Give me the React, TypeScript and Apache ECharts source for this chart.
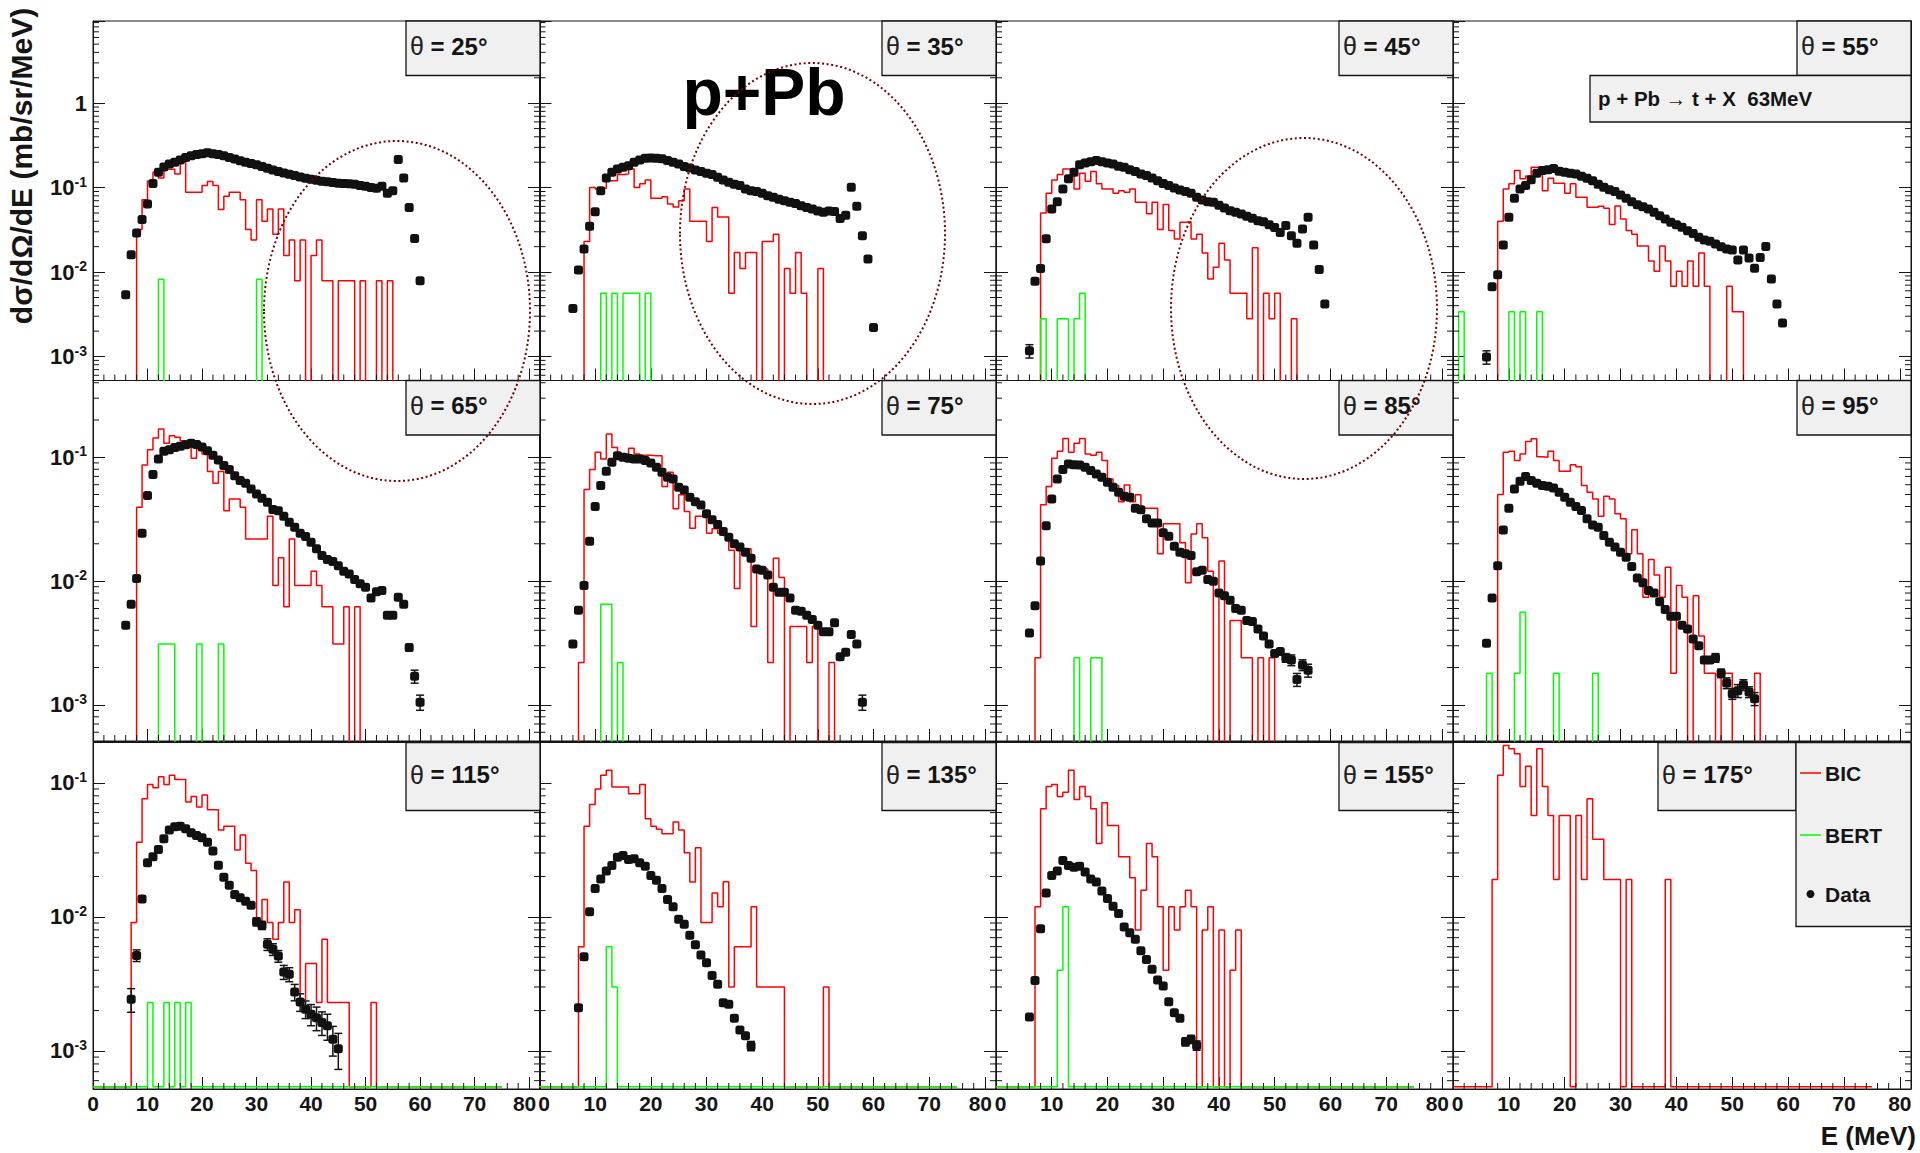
import React, { useEffect, useRef } from "react";
import * as echarts from "echarts";

// ---------------- data ----------------
const ANGLES = [25, 35, 45, 55, 65, 75, 85, 95, 115, 135, 155, 175];
const X_TICK_LABELS = [0, 10, 20, 30, 40, 50, 60, 70, 80];
const ROW_Y_MIN = [0.00052, 0.00051, 0.00052];
const ROW_Y_MAX = [9.4, 0.417, 0.2];
const LEGEND_LABELS = ["BIC", "BERT", "Data"];
const REACTION = "p + Pb → t + X  63MeV";
const BIG_LABEL = "p+Pb";
const Y_TITLE = "dσ/dΩ/dE (mb/sr/MeV)";
const X_TITLE = "E (MeV)";

// measured data, 1 MeV steps starting at DATA_START
const DATA_START = [6, 6, 6, 6, 6, 6, 6, 6, 7, 7, 6, 6];
const data25 = [0.0054, 0.016, 0.029, 0.042, 0.064, 0.112, 0.152, 0.175, 0.19, 0.2, 0.213, 0.228, 0.238, 0.247, 0.252, 0.258, 0.252, 0.246, 0.238, 0.228, 0.218, 0.208, 0.2, 0.193, 0.186, 0.178, 0.17, 0.162, 0.155, 0.149, 0.144, 0.139, 0.134, 0.129, 0.126, 0.122, 0.119, 0.117, 0.115, 0.113, 0.112, 0.111, 0.11, 0.106, 0.104, 0.1, 0.098, 0.104, 0.086, 0.092, 0.215, 0.13, 0.058, 0.025, 0.0079];
const data35 = [0.0037, 0.0106, 0.0188, 0.0348, 0.0519, 0.092, 0.13, 0.152, 0.166, 0.174, 0.182, 0.2, 0.213, 0.223, 0.225, 0.223, 0.219, 0.209, 0.2, 0.19, 0.178, 0.171, 0.162, 0.155, 0.148, 0.143, 0.133, 0.123, 0.116, 0.11, 0.106, 0.096, 0.092, 0.09, 0.086, 0.08, 0.077, 0.073, 0.07, 0.067, 0.065, 0.061, 0.058, 0.056, 0.053, 0.051, 0.053, 0.052, 0.043, 0.047, 0.101, 0.06, 0.027, 0.0143, 0.0022];
const data45 = [0.00117, 0.0078, 0.011, 0.0248, 0.0558, 0.068, 0.096, 0.127, 0.152, 0.186, 0.196, 0.203, 0.209, 0.203, 0.196, 0.19, 0.179, 0.174, 0.163, 0.155, 0.145, 0.139, 0.13, 0.121, 0.112, 0.106, 0.099, 0.094, 0.0897, 0.0857, 0.077, 0.0714, 0.068, 0.067, 0.062, 0.0574, 0.0533, 0.051, 0.0487, 0.0457, 0.0433, 0.0406, 0.0395, 0.0364, 0.0338, 0.0295, 0.0355, 0.027, 0.0219, 0.0324, 0.0445, 0.0209, 0.0107, 0.0042];
const data55 = [0.00099, 0.0067, 0.0093, 0.0209, 0.0445, 0.0748, 0.0964, 0.106, 0.124, 0.148, 0.159, 0.163, 0.169, 0.156, 0.152, 0.148, 0.145, 0.136, 0.129, 0.121, 0.11, 0.101, 0.0946, 0.0897, 0.0818, 0.0748, 0.068, 0.0629, 0.0595, 0.0558, 0.051, 0.0466, 0.0425, 0.0388, 0.0364, 0.0339, 0.0309, 0.0287, 0.0258, 0.0239, 0.0231, 0.0215, 0.02, 0.0187, 0.0182, 0.0139, 0.0182, 0.0147, 0.0111, 0.0149, 0.0201, 0.0083, 0.0042, 0.0025];
const data65 = [0.0044, 0.0065, 0.0105, 0.0243, 0.049, 0.0724, 0.097, 0.112, 0.115, 0.12, 0.123, 0.126, 0.13, 0.127, 0.121, 0.113, 0.104, 0.095, 0.0857, 0.0795, 0.071, 0.0648, 0.0617, 0.0555, 0.0506, 0.0467, 0.0433, 0.0378, 0.037, 0.0334, 0.0299, 0.0272, 0.0243, 0.0229, 0.0206, 0.0182, 0.0161, 0.0149, 0.0144, 0.0133, 0.012, 0.0114, 0.0103, 0.0095, 0.0089, 0.0073, 0.0082, 0.0084, 0.0053, 0.0053, 0.0074, 0.0065, 0.0029, 0.0017, 0.00105];
const data75 = [0.0031, 0.0058, 0.0092, 0.021, 0.04, 0.059, 0.077, 0.091, 0.103, 0.1, 0.098, 0.097, 0.097, 0.094, 0.09, 0.083, 0.0756, 0.069, 0.0668, 0.0573, 0.0545, 0.0475, 0.0438, 0.0412, 0.0349, 0.0312, 0.0286, 0.0251, 0.0226, 0.02, 0.0188, 0.0171, 0.0153, 0.0125, 0.0122, 0.0112, 0.0089, 0.0081, 0.0081, 0.0073, 0.0058, 0.0057, 0.0053, 0.0049, 0.0044, 0.0039, 0.0039, 0.0046, 0.00245, 0.00266, 0.0037, 0.0031, 0.00105];
const data85 = [0.0038, 0.0063, 0.0145, 0.028, 0.0461, 0.0668, 0.0795, 0.0883, 0.0871, 0.0867, 0.083, 0.078, 0.0733, 0.069, 0.0628, 0.0573, 0.0522, 0.0484, 0.0475, 0.0387, 0.0376, 0.0318, 0.0295, 0.0294, 0.0245, 0.023, 0.0191, 0.0171, 0.0166, 0.0161, 0.0119, 0.0122, 0.0103, 0.00998, 0.008, 0.0076, 0.007, 0.006, 0.0058, 0.0048, 0.0047, 0.0041, 0.0036, 0.0031, 0.0026, 0.0027, 0.0024, 0.0023, 0.0016, 0.0021, 0.0019];
const data95 = [0.00315, 0.0073, 0.0133, 0.0259, 0.0387, 0.0555, 0.064, 0.0698, 0.0648, 0.0617, 0.059, 0.0583, 0.0565, 0.0522, 0.0475, 0.0433, 0.04, 0.0371, 0.0318, 0.0284, 0.0272, 0.0233, 0.0206, 0.0188, 0.0171, 0.0156, 0.0131, 0.0106, 0.0097, 0.0084, 0.008, 0.0068, 0.0059, 0.0052, 0.0052, 0.0044, 0.0041, 0.0034, 0.003, 0.0023, 0.0023, 0.0024, 0.0018, 0.0015, 0.00123, 0.0013, 0.00145, 0.00127, 0.00112];
const data115 = [0.00243, 0.00516, 0.0136, 0.0253, 0.0281, 0.0318, 0.0383, 0.0444, 0.047, 0.0475, 0.0454, 0.0424, 0.0405, 0.0389, 0.036, 0.031, 0.0243, 0.0198, 0.0172, 0.0147, 0.0139, 0.0131, 0.0122, 0.0092, 0.00865, 0.00624, 0.00573, 0.0051, 0.00388, 0.00373, 0.00275, 0.00232, 0.00205, 0.00188, 0.00177, 0.00163, 0.00154, 0.00122, 0.00104];
const data135 = [0.0021, 0.00505, 0.0109, 0.0163, 0.0192, 0.022, 0.0242, 0.0279, 0.0287, 0.0268, 0.0271, 0.0253, 0.0239, 0.0204, 0.0188, 0.0163, 0.0135, 0.0119, 0.0096, 0.0088, 0.0073, 0.0062, 0.0052, 0.00455, 0.00366, 0.00314, 0.00229, 0.00223, 0.00175, 0.00143, 0.0013, 0.00109];
const data155 = [0.00179, 0.00336, 0.00817, 0.0151, 0.0204, 0.022, 0.0264, 0.0242, 0.0235, 0.0239, 0.0216, 0.0192, 0.0182, 0.0156, 0.0137, 0.012, 0.0106, 0.0084, 0.0076, 0.0068, 0.0056, 0.0048, 0.00406, 0.00338, 0.00305, 0.00233, 0.00193, 0.00175, 0.00117, 0.00122, 0.0011];
const data175: number[] = [];

// visible error bars: [E, relative error]
const err45 = [[6, 0.18]];
const err55 = [[6, 0.18]];
const err65 = [[58, 0.06], [59, 0.12], [60, 0.14]];
const err75 = [[58, 0.14]];
const err85 = [[52, 0.08], [53, 0.1], [54, 0.12], [55, 0.1], [56, 0.12]];
const err95 = [[47, 0.08], [48, 0.08], [49, 0.1], [50, 0.1], [51, 0.12], [52, 0.1], [53, 0.1], [54, 0.12]];
const err115 = [[7, 0.2], [8, 0.1], [30, 0.07], [31, 0.07], [32, 0.1], [33, 0.1], [34, 0.1], [35, 0.12], [36, 0.12], [37, 0.14], [38, 0.15], [39, 0.15], [40, 0.18], [41, 0.2], [42, 0.2], [43, 0.22], [44, 0.25], [45, 0.3]];
const err135 = [[38, 0.08]];
const err155 = [[34, 0.07], [35, 0.07], [36, 0.08]];

// BIC histograms, 1 MeV bins starting at BIC_START
const BIC_START = [8, 8, 8, 8, 8, 7, 7, 8, 7, 7, 7, 7];
const bic25 = [0.032, 0.072, 0.12, 0.152, 0.13, 0.165, 0.165, 0.145, 0.2, 0.088, 0.088, 0.088, 0.106, 0.118, 0.106, 0.055, 0.079, 0.088, 0.088, 0.072, 0.032, 0.024, 0.072, 0.04, 0.056, 0.028, 0.056, 0.0157, 0.024, 0.0079, 0.024, 0, 0.0157, 0.024, 0.0079, 0.0079, 0, 0.0079, 0.0079, 0.0079, 0, 0.0079, 0, 0, 0.0079, 0, 0.0079];
const bic35 = [0.023, 0.1, 0.096, 0.098, 0.121, 0.121, 0.143, 0.145, 0.166, 0.1, 0.111, 0.123, 0.075, 0.075, 0.078, 0.064, 0.059, 0.07, 0.096, 0.04, 0.04, 0.04, 0.023, 0.058, 0.045, 0.045, 0.0056, 0.017, 0.011, 0.017, 0.017, 0, 0.023, 0.023, 0.028, 0, 0.011, 0.0056, 0.017, 0.0056, 0, 0, 0.011];
const bic45 = [0.05, 0.0857, 0.123, 0.143, 0.166, 0.166, 0.096, 0.148, 0.119, 0.155, 0.111, 0.096, 0.096, 0.0857, 0.092, 0.088, 0.096, 0.067, 0.067, 0.049, 0.067, 0.032, 0.063, 0.031, 0.0246, 0.0388, 0.0395, 0.0246, 0.028, 0.0168, 0.0083, 0.0114, 0.022, 0.0139, 0.0056, 0.0056, 0.0056, 0.0028, 0.0194, 0, 0.0056, 0.0028, 0.0056, 0, 0, 0.0028];
const bic55 = [0.04, 0.096, 0.111, 0.159, 0.127, 0.137, 0.174, 0.174, 0.092, 0.129, 0.113, 0.113, 0.0857, 0.111, 0.0767, 0.0767, 0.0585, 0.0585, 0.06, 0.057, 0.0365, 0.0604, 0.0425, 0.031, 0.028, 0.0203, 0.0203, 0.0135, 0.0102, 0.0203, 0.0135, 0.0068, 0.0102, 0.0068, 0.0135, 0.0068, 0.0168, 0.0068, 0, 0, 0, 0.0068, 0.0034, 0.0034];
const bic65 = [0.0394, 0.0867, 0.115, 0.143, 0.169, 0.13, 0.149, 0.145, 0.136, 0.128, 0.098, 0.128, 0.106, 0.0766, 0.0617, 0.0766, 0.037, 0.0461, 0.0461, 0.0394, 0.0219, 0.0219, 0.0219, 0.0219, 0.0334, 0.0092, 0.0154, 0.0062, 0.0219, 0.0092, 0.0092, 0.0092, 0.012, 0.0092, 0.0062, 0.0062, 0.0031, 0.0031, 0.0062, 0, 0.0062];
const bic75 = [0.0022, 0.0548, 0.0795, 0.11, 0.097, 0.154, 0.12, 0.106, 0.106, 0.118, 0.106, 0.104, 0.104, 0.103, 0.103, 0.058, 0.0756, 0.0383, 0.0497, 0.0364, 0.0267, 0.0334, 0.0338, 0.0243, 0.0264, 0.0243, 0.0233, 0.0177, 0.0087, 0.0182, 0.0182, 0.0043, 0.0125, 0.0125, 0.0022, 0.0153, 0.0107, 0, 0.0043, 0.0043, 0.0043, 0.0022, 0.0043, 0, 0, 0.0022];
const bic85 = [0.0024, 0.0413, 0.058, 0.098, 0.112, 0.142, 0.11, 0.13, 0.142, 0.106, 0.104, 0.11, 0.094, 0.0668, 0.059, 0.0438, 0.0597, 0.0438, 0.0497, 0.0387, 0.0387, 0.0387, 0.0166, 0.029, 0.029, 0.029, 0.0204, 0.0097, 0.024, 0.029, 0.0224, 0.012, 0, 0.0145, 0, 0.0048, 0.0048, 0.0024, 0.0024, 0, 0.0024, 0, 0.0024];
const bic95 = [0.05, 0.11, 0.112, 0.094, 0.106, 0.134, 0.141, 0.101, 0.1, 0.112, 0.094, 0.077, 0.077, 0.087, 0.084, 0.059, 0.0522, 0.0461, 0.0334, 0.0484, 0.0461, 0.0349, 0.0318, 0.0166, 0.026, 0.0166, 0.0074, 0.0149, 0.0112, 0.0074, 0.0129, 0.0018, 0.0092, 0.0074, 0, 0.0076, 0.0036, 0.0018, 0.0018, 0, 0.0018, 0.0018, 0, 0, 0, 0, 0.0018];
const bic115 = [0.0091, 0.0361, 0.076, 0.097, 0.092, 0.111, 0.097, 0.114, 0.106, 0.106, 0.072, 0.079, 0.066, 0.081, 0.063, 0.063, 0.0444, 0.0475, 0.0475, 0.0315, 0.0408, 0.0251, 0.0222, 0.0091, 0.0135, 0.0091, 0.0068, 0.0091, 0.0182, 0.0091, 0.0113, 0.0024, 0.0045, 0.0045, 0.0023, 0.0068, 0.0023, 0.0023, 0.0023, 0.0023, 0, 0, 0, 0, 0.0023];
const bic135 = [0.006, 0.0475, 0.069, 0.09, 0.114, 0.124, 0.093, 0.093, 0.093, 0.083, 0.083, 0.097, 0.054, 0.0475, 0.045, 0.0417, 0.0417, 0.051, 0.0444, 0.0301, 0.0182, 0.0328, 0.0091, 0.0091, 0.0151, 0.0119, 0.0183, 0.003, 0.006, 0.006, 0.006, 0.0119, 0.003, 0.003, 0.003, 0.003, 0.003, 0, 0, 0, 0, 0, 0, 0, 0.003];
const bic155 = [0.0119, 0.064, 0.094, 0.097, 0.079, 0.085, 0.124, 0.075, 0.094, 0.079, 0.064, 0.0353, 0.071, 0.048, 0.048, 0.0281, 0.0281, 0.0196, 0.008, 0.0158, 0.0353, 0.0281, 0.0119, 0.004, 0.0119, 0.008, 0.0119, 0.0158, 0.0119, 0, 0.008, 0.0119, 0, 0.008, 0, 0.004, 0.008];
const bic175 = [0.019, 0.114, 0.19, 0.18, 0.165, 0.094, 0.133, 0.057, 0.18, 0.094, 0.057, 0.019, 0.057, 0.057, 0, 0.057, 0.019, 0.076, 0.038, 0.038, 0.019, 0.019, 0.019, 0, 0.019, 0, 0, 0, 0, 0, 0, 0.019];

// BERT histograms: [bin low edge (MeV), value]
const bert25 = [[12, 0.0082], [30, 0.0082]];
const bert35 = [[11, 0.0056], [13, 0.0056], [15, 0.0056], [16, 0.0056], [17, 0.0056], [19, 0.0056]];
const bert45 = [[8, 0.0028], [11, 0.0028], [12, 0.0028], [14, 0.0028], [15, 0.0056]];
const bert55 = [[1, 0.0034], [10, 0.0034], [12, 0.0034], [15, 0.0034]];
const bert65 = [[12, 0.0031], [13, 0.0031], [14, 0.0031], [19, 0.0031], [23, 0.0031]];
const bert75 = [[11, 0.0065], [12, 0.0065], [14, 0.0022]];
const bert85 = [[14, 0.0024], [17, 0.0024], [18, 0.0024]];
const bert95 = [[6, 0.0018], [11, 0.0018], [12, 0.0056], [18, 0.0018], [25, 0.0018]];
const bert115 = [[10, 0.0023], [13, 0.0023], [15, 0.0023], [17, 0.0023]];
const bert135 = [[12, 0.006], [13, 0.003]];
const bert155 = [[11, 0.004], [12, 0.0119]];
const bert175: number[][] = [];

const DATA = [data25, data35, data45, data55, data65, data75, data85, data95, data115, data135, data155, data175];
const ERRS = [[], [], err45, err55, err65, err75, err85, err95, err115, err135, err155, []];
const BIC = [bic25, bic35, bic45, bic55, bic65, bic75, bic85, bic95, bic115, bic135, bic155, bic175];
const BERT = [bert25, bert35, bert45, bert55, bert65, bert75, bert85, bert95, bert115, bert135, bert155, bert175];

// ---------------- layout / style ----------------
const FONT = "'Liberation Sans', Arial, Helvetica, sans-serif";
const COL_L = [93, 539.5, 996, 1453];
const COL_R = [540, 996, 1453, 1911];
const ROW_T = [21, 380.5, 742.5];
const ROW_B = [380.5, 741, 1089];
const X_MAX = 82;
const HIST_END = 75;
const RED = "#ff0000";
const GREEN = "#00ff00";
const INK = "#151515";

function histFromArray(start: number, vals: number[], floor: number) {
  const out: number[][] = [];
  for (let k = 0; k < HIST_END; k++) {
    const idx = k - start;
    const v = idx >= 0 && idx < vals.length ? vals[idx] : 0;
    out.push([k, v > 0 ? v : floor]);
  }
  out.push([HIST_END, floor]);
  return out;
}

function histFromPairs(pairs: number[][], floor: number) {
  const out: number[][] = [];
  for (let k = 0; k < HIST_END; k++) {
    const hit = pairs.find((p) => p[0] === k);
    out.push([k, hit ? hit[1] : floor]);
  }
  out.push([HIST_END, floor]);
  return out;
}

function minorTickItems(ymin: number, ymax: number) {
  const items: number[][] = [];
  for (let k = -4; k <= 1; k++) {
    for (let j = 2; j <= 9; j++) {
      const v = j * Math.pow(10, k);
      if (v > ymin * 1.001 && v < ymax * 0.999) items.push([0, v, 0]);
    }
  }
  for (let x = 2; x < X_MAX; x += 2) {
    if (x % 10 !== 0) items.push([x, ymin, 1]);
  }
  return items;
}

function yLabel(v: number) {
  const lg = Math.log10(v);
  const k = Math.round(lg);
  if (Math.abs(lg - k) > 1e-3) return "";
  if (k === 0) return "{b|1}";
  return "{b|10}{s|" + k + "}";
}

function makeXLabel(col: number) {
  return (v: number) => {
    const r = Math.round(v);
    if (Math.abs(v - r) > 1e-6) return "";
    if (X_TICK_LABELS.indexOf(r) < 0) return "";
    if (r === 0 && col > 0) return "{l|0}";
    if (r === 80 && col < 3) return "{r|80}";
    return "{n|" + r + "}";
  };
}

const X_LABEL_TEXT = { fontFamily: FONT, fontWeight: "bold", fontSize: 21, color: INK };

function buildOption() {
  const grid: any[] = [];
  const xAxis: any[] = [];
  const yAxis: any[] = [];
  const series: any[] = [];
  const graphic: any[] = [];

  ANGLES.forEach((angle, i) => {
    const r = Math.floor(i / 4);
    const c = i % 4;
    const ymin = ROW_Y_MIN[r];
    const ymax = ROW_Y_MAX[r];
    grid.push({
      left: COL_L[c],
      top: ROW_T[r],
      width: COL_R[c] - COL_L[c],
      height: ROW_B[r] - ROW_T[r],
      show: true,
      borderColor: INK,
      borderWidth: 1,
      containLabel: false,
    });
    xAxis.push({
      gridIndex: i,
      type: "value",
      min: 0,
      max: X_MAX,
      interval: 10,
      axisLine: { show: true, onZero: false, lineStyle: { color: INK, width: 1 } },
      axisTick: { show: true, inside: true, length: 12, lineStyle: { color: INK, width: 1 } },
      splitLine: { show: false },
      axisLabel: {
        show: r === 2,
        formatter: makeXLabel(c),
        margin: 4,
        rich: {
          n: { ...X_LABEL_TEXT },
          l: { ...X_LABEL_TEXT, padding: [0, 0, 0, 9] },
          r: { ...X_LABEL_TEXT, padding: [0, 9, 0, 0] },
        },
      },
    });
    const yBase = {
      gridIndex: i,
      type: "log",
      logBase: 10,
      min: ymin,
      max: ymax,
      axisLine: { show: true, lineStyle: { color: INK, width: 1 } },
      axisTick: { show: true, inside: true, length: 12, lineStyle: { color: INK, width: 1 } },
      splitLine: { show: false },
    };
    yAxis.push({
      ...yBase,
      position: "left",
      axisLabel: {
        show: c === 0,
        formatter: yLabel,
        margin: 6,
        rich: {
          b: { fontFamily: FONT, fontWeight: "bold", fontSize: 22, color: INK, lineHeight: 26 },
          s: { fontFamily: FONT, fontWeight: "bold", fontSize: 14, color: INK, verticalAlign: "top", lineHeight: 14 },
        },
      },
    });
    yAxis.push({ ...yBase, position: "right", axisLabel: { show: false } });

    const floor = r === 2 ? ymin * 1.04 : 1e-7;

    // minor ticks (log decades 2..9, x every 2 MeV)
    series.push({
      type: "custom",
      xAxisIndex: i,
      yAxisIndex: 2 * i,
      silent: true,
      z: 6,
      data: minorTickItems(ymin, ymax),
      renderItem: (params: any, api: any) => {
        const kind = api.value(2);
        const st = { stroke: INK, lineWidth: 1 };
        if (kind === 0) {
          const v = api.value(1);
          const a = api.coord([0, v]);
          const b = api.coord([X_MAX, v]);
          return {
            type: "group",
            children: [
              { type: "line", shape: { x1: a[0], y1: a[1], x2: a[0] + 6, y2: a[1] }, style: st },
              { type: "line", shape: { x1: b[0] - 6, y1: b[1], x2: b[0], y2: b[1] }, style: st },
            ],
          };
        }
        const p = api.coord([api.value(0), api.value(1)]);
        return { type: "line", shape: { x1: p[0], y1: p[1], x2: p[0], y2: p[1] - 6 }, style: st };
      },
    });

    series.push({
      type: "line",
      name: "BIC",
      xAxisIndex: i,
      yAxisIndex: 2 * i,
      step: "end",
      symbol: "none",
      clip: true,
      z: 2,
      lineStyle: { color: RED, width: 1.5 },
      data: histFromArray(BIC_START[i], BIC[i], floor),
    });

    if (BERT[i].length) {
      series.push({
        type: "line",
        name: "BERT",
        xAxisIndex: i,
        yAxisIndex: 2 * i,
        step: "end",
        symbol: "none",
        clip: true,
        z: 3,
        lineStyle: { color: GREEN, width: 1.5 },
        data: histFromPairs(BERT[i], floor),
      });
    }

    if (DATA[i].length) {
      const errs = ERRS[i] as number[][];
      const items = DATA[i].map((v, k) => {
        const e = DATA_START[i] + k;
        const hit = errs.find((p) => p[0] === e);
        return [e, v, hit ? hit[1] : 0];
      });
      series.push({
        type: "custom",
        name: "Data",
        xAxisIndex: i,
        yAxisIndex: 2 * i,
        z: 4,
        data: items,
        renderItem: (params: any, api: any) => {
          const x = api.value(0);
          const y = api.value(1);
          const e = api.value(2);
          const p = api.coord([x, y]);
          const children: any[] = [];
          if (e > 0) {
            const t = api.coord([x, y * (1 + e)]);
            const b = api.coord([x, y * (1 - e)]);
            const st = { stroke: INK, lineWidth: 1.5 };
            children.push({ type: "line", shape: { x1: p[0], y1: t[1], x2: p[0], y2: b[1] }, style: st });
            children.push({ type: "line", shape: { x1: p[0] - 4, y1: t[1], x2: p[0] + 4, y2: t[1] }, style: st });
            children.push({ type: "line", shape: { x1: p[0] - 4, y1: b[1], x2: p[0] + 4, y2: b[1] }, style: st });
          }
          children.push({
            type: "rect",
            shape: { x: p[0] - 4.5, y: p[1] - 4.5, width: 9, height: 9, r: 2.5 },
            style: { fill: "#111" },
          });
          return { type: "group", children };
        },
      });
    }

    // theta box
    let right = COL_R[c];
    let w = c === 0 ? 134 : 114;
    if (i === 11) {
      right = 1796;
      w = 138;
    }
    const h = r === 2 ? 68 : 54.5;
    const left = right - w;
    const top = ROW_T[r];
    graphic.push({
      type: "rect",
      z: 100,
      shape: { x: left, y: top, width: w, height: h },
      style: { fill: "#f0f0f0", stroke: INK, lineWidth: 1.3 },
    });
    graphic.push({
      type: "text",
      z: 101,
      x: left + 4,
      y: top + h / 2 - 2,
      style: {
        text: "{t|θ}{b| = " + angle + "°}",
        align: "left",
        verticalAlign: "middle",
        textAlign: "left",
        textVerticalAlign: "middle",
        rich: {
          t: { fontFamily: FONT, fontWeight: "normal", fontSize: 25, fill: "#222" },
          b: { fontFamily: FONT, fontWeight: "bold", fontSize: 24, fill: INK },
        },
      },
    });
  });

  // reaction box (55 deg panel)
  graphic.push({
    type: "rect",
    z: 100,
    shape: { x: 1590, y: 75.5, width: 321, height: 46.5 },
    style: { fill: "#f0f0f0", stroke: INK, lineWidth: 1.3 },
  });
  graphic.push({
    type: "text",
    z: 101,
    x: 1598,
    y: 98.5,
    style: {
      text: REACTION,
      fontFamily: FONT,
      fontWeight: "bold",
      fontSize: 20.5,
      fill: INK,
      align: "left",
      verticalAlign: "middle",
      textAlign: "left",
      textVerticalAlign: "middle",
    },
  });

  // legend box
  graphic.push({
    type: "rect",
    z: 100,
    shape: { x: 1796, y: 742.5, width: 115, height: 184 },
    style: { fill: "#f0f0f0", stroke: INK, lineWidth: 1.3 },
  });
  const legY = [773, 835, 894];
  graphic.push({ type: "line", z: 101, shape: { x1: 1800, y1: legY[0], x2: 1821, y2: legY[0] }, style: { stroke: RED, lineWidth: 1.5 } });
  graphic.push({ type: "line", z: 101, shape: { x1: 1800, y1: legY[1], x2: 1821, y2: legY[1] }, style: { stroke: GREEN, lineWidth: 1.5 } });
  graphic.push({ type: "circle", z: 101, shape: { cx: 1810.5, cy: legY[2], r: 4 }, style: { fill: "#111" } });
  LEGEND_LABELS.forEach((lab, k) => {
    graphic.push({
      type: "text",
      z: 101,
      x: 1825,
      y: legY[k],
      style: {
        text: lab,
        fontFamily: FONT,
        fontWeight: "bold",
        fontSize: 21,
        fill: INK,
        align: "left",
        verticalAlign: "middle",
        textAlign: "left",
        textVerticalAlign: "middle",
      },
    });
  });

  // big annotation
  graphic.push({
    type: "text",
    z: 102,
    x: 764,
    y: 92,
    style: {
      text: BIG_LABEL,
      fontFamily: FONT,
      fontWeight: "bold",
      fontSize: 66,
      fill: "#000",
      align: "center",
      verticalAlign: "middle",
      textAlign: "center",
      textVerticalAlign: "middle",
    },
  });

  // dotted ellipses
  const ell = [
    [397, 311, 133, 170],
    [812.5, 233.5, 132.5, 170.5],
    [1304, 308.5, 133, 170.5],
  ];
  ell.forEach((e) => {
    graphic.push({
      type: "ellipse",
      z: 110,
      silent: true,
      shape: { cx: e[0], cy: e[1], rx: e[2], ry: e[3] },
      style: { fill: "none", stroke: "#7a0000", lineWidth: 2, lineDash: [2, 2.6] },
    });
  });

  // axis titles
  graphic.push({
    type: "text",
    z: 101,
    x: 21,
    y: 166,
    rotation: Math.PI / 2,
    style: {
      text: Y_TITLE,
      fontFamily: FONT,
      fontWeight: "bold",
      fontSize: 30,
      fill: INK,
      align: "center",
      verticalAlign: "middle",
      textAlign: "center",
      textVerticalAlign: "middle",
    },
  });
  graphic.push({
    type: "text",
    z: 101,
    x: 1916,
    y: 1136,
    style: {
      text: X_TITLE,
      fontFamily: FONT,
      fontWeight: "bold",
      fontSize: 26,
      fill: INK,
      align: "right",
      verticalAlign: "middle",
      textAlign: "right",
      textVerticalAlign: "middle",
    },
  });

  return {
    animation: false,
    backgroundColor: "#ffffff",
    grid,
    xAxis,
    yAxis,
    series,
    graphic: { elements: graphic },
  };
}

export default function App() {
  const ref = useRef<HTMLDivElement>(null);
  useEffect(() => {
    if (!ref.current) return;
    const chart = echarts.init(ref.current, null, { renderer: "svg" });
    chart.setOption(buildOption() as any);
    return () => chart.dispose();
  }, []);
  return (
    <div
      ref={ref}
      style={{ position: "fixed", left: 0, top: 0, width: 1920, height: 1153, background: "#fff" }}
    />
  );
}
